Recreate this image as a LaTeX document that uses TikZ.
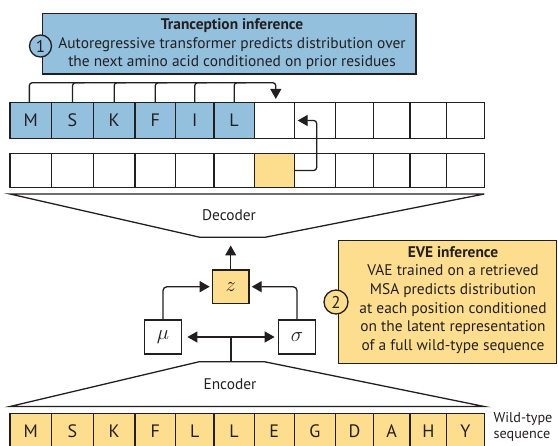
\documentclass[tikz,border=0pt]{standalone}
\usepackage{fontspec}
\setmainfont{PT Sans}
\usetikzlibrary{arrows.meta,calc}
\definecolor{ink}{RGB}{35,31,32}
\definecolor{tblue}{RGB}{146,192,221}
\definecolor{eyel}{RGB}{252,222,142}
\begin{document}
\begin{tikzpicture}[x=1pt,y=-1pt,line width=1.3pt,color=ink,
  cell/.style={draw=ink,inner sep=0pt,font=\fontsize{18}{20}\selectfont},
  infobox/.style={draw=ink,inner sep=0pt},
  numdot/.style={circle,draw=ink,inner sep=0pt,font=\fontsize{17}{18}\selectfont},
  body/.style={font=\fontsize{15.4}{18.5}\selectfont},
  varbox/.style={draw=ink,inner sep=0pt,font=\fontsize{22}{24}\selectfont},
  arr/.style={-{Triangle[length=10pt,width=11pt]}},
  darr/.style={{Triangle[length=10pt,width=11pt]}-{Triangle[length=10pt,width=11pt]}}]
\useasboundingbox (0,0) rectangle (558,446);
\clip (0,0) rectangle (558,446);

% --- Tranception panel
\node[infobox,fill=tblue,minimum width=373.3pt,minimum height=60.7pt] (tbox) at (229.35,43.65) {};
\node[numdot,fill=tblue,minimum size=22pt] (n1) at (40.5,46) {1};
\node[body,align=center] (ttext) at (232,44.5)
  {\textbf{Tranception inference}\\Autoregressive transformer predicts distribution over\\the next amino acid conditioned on prior residues};

% --- autoregressive row
\foreach \i/\a/\b/\t/\f in {1/10/51.7/M/tblue,2/51.7/93.3/S/tblue,3/93.3/135/K/tblue,
    4/135/175.5/F/tblue,5/175.5/214/I/tblue,6/214/254.3/L/tblue,7/254.3/294.3//white,
    8/294.3/335.5//white,9/335.5/373.3//white,10/373.3/410//white,11/410/446.7//white,
    12/446.7/484.3//white}{
  \pgfmathsetmacro\w{\b-\a}\pgfmathsetmacro\c{(\a+\b)/2}
  \node[cell,fill=\f,minimum width=\w pt,minimum height=35.5pt] (r1-\i) at (\c,120.5) {\t};
}

% --- decoder output row
\foreach \i/\a/\b/\f in {1/10/51.7/white,2/51.7/93.3/white,3/93.3/135/white,
    4/135/175.5/white,5/175.5/214/white,6/214/254.3/white,7/254.3/294.3/eyel,
    8/294.3/335.5/white,9/335.5/373.3/white,10/373.3/410/white,11/410/446.7/white,
    12/446.7/484.3/white}{
  \pgfmathsetmacro\w{\b-\a}\pgfmathsetmacro\c{(\a+\b)/2}
  \node[cell,fill=\f,minimum width=\w pt,minimum height=34pt] (r2-\i) at (\c,170.5) {};
}

% --- wild-type row
\foreach \i/\a/\b/\t in {1/10/51.7/M,2/51.7/93.3/S,3/93.3/135/K,4/135/175.5/F,
    5/175.5/214/L,6/214/254.3/L,7/254.3/294.3/E,8/294.3/335.5/G,9/335.5/373.3/D,
    10/373.3/410/A,11/410/446.7/H,12/446.7/484.3/Y}{
  \pgfmathsetmacro\w{\b-\a}\pgfmathsetmacro\c{(\a+\b)/2}
  \node[cell,fill=eyel,minimum width=\w pt,minimum height=35pt] (r3-\i) at (\c,430.8) {\t};
}
\node[anchor=west,align=left,inner sep=0pt,font=\fontsize{14.2}{16}\selectfont] (wt) at (493,427) {Wild-type\\sequence};

% --- context bracket over the prefix
\coordinate (brk) at ($(r1-7.north)+(1.5,-19.4)$);
\coordinate (tip) at ($(r1-7.north)+(1.5,-3.2)$);
\draw[arr,rounded corners=3] ($(r1-1.north)+(-1.5,0)$) |- (brk) -- (tip);
\foreach \i in {2,...,6}
  \draw[rounded corners=3] (r1-\i.north) |- ++(12,-19.4);

% --- link from the decoded position to the next token
\coordinate (turn) at (316.7,120.5);
\draw[arr,rounded corners=3] (r2-7.east) -| (turn) -- ($(r1-8.west)+(4,0)$);

% --- decoder and encoder
\draw[line join=miter] (10,194) -- (484.3,194) -- (265,237.3) -- (200,237.3) -- cycle;
\node[body] (dec) at (229,215) {Decoder};
\draw[line join=miter] (10,406.5) -- (199.3,361.7) -- (264.3,361.7) -- (484.3,406.5) -- cycle;
\node[body] (enc) at (230,384) {Encoder};

% --- latent variables
\node[varbox,fill=eyel,minimum width=36.7pt,minimum height=33.3pt] (z) at (230.7,286.7) {$z$};
\node[varbox,fill=white,minimum width=37.4pt,minimum height=34pt] (mu) at (163,337) {$\mu$};
\node[varbox,fill=white,minimum width=37.4pt,minimum height=34pt] (sig) at (297,337) {$\sigma$};

\coordinate (decin) at (230.7,245.5);
\draw[arr] (z.north) -- (decin);
\draw[arr,rounded corners=4] (mu.north) |- ($(z.west)+(-2,0)$);
\draw[arr,rounded corners=4] (sig.north) |- ($(z.east)+(2,0)$);
\draw[darr,shorten <=5pt,shorten >=3pt] (mu.east) -- (sig.west);
\coordinate (stem) at (231,337);
\coordinate (enctop) at (231,361.7);
\draw (stem) -- (enctop);

% --- EVE panel
\node[infobox,fill=eyel,minimum width=218.4pt,minimum height=122.6pt] (ebox) at (447.5,302) {};
\node[numdot,fill=eyel,minimum size=24pt] (n2) at (336,302) {2};
\node[body,align=center,font=\fontsize{15.4}{18.7}\selectfont] (etext) at (453,300)
  {\textbf{EVE inference}\\VAE trained on a retrieved\\MSA predicts distribution\\at each position conditioned\\on the latent representation\\of a full wild-type sequence};
\end{tikzpicture}
\end{document}
